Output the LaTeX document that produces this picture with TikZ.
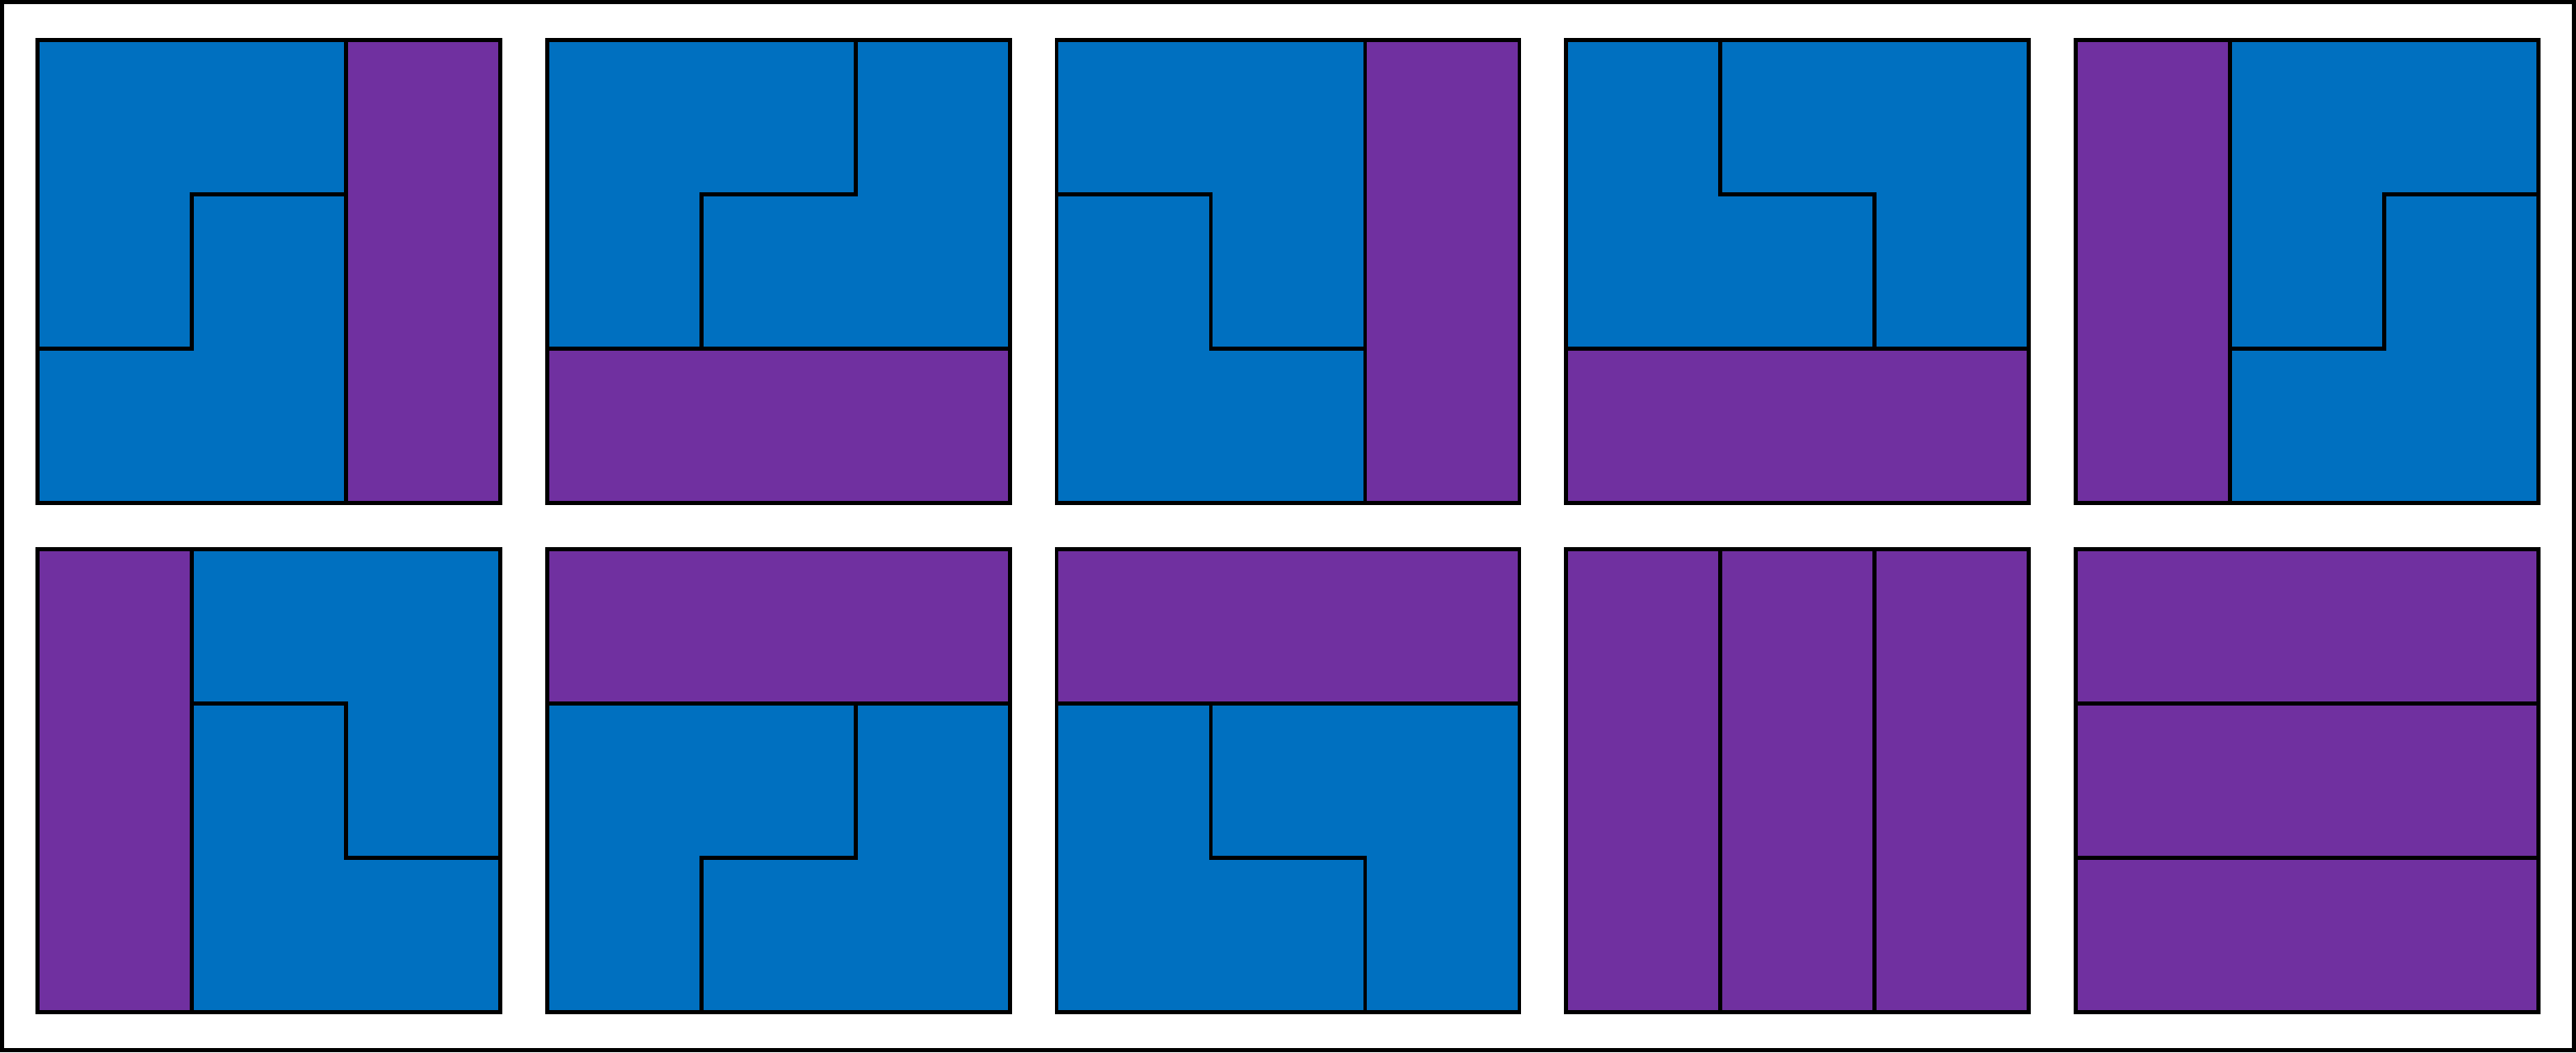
\documentclass[tikz,border=0pt]{standalone}
\definecolor{lblue}{HTML}{0070C0}
\definecolor{bpurple}{HTML}{7030A0}
\tikzset{
  tromino/.style={fill=lblue,draw=black,line width=0.75pt,line join=miter},
  barpiece/.style={fill=bpurple,draw=black,line width=0.75pt},
}
\begin{document}
\begin{tikzpicture}[x=1cm,y=-1cm]
    \useasboundingbox (0,0) rectangle (16.70,6.818);
    \draw[line width=0.75pt] (0.0134,0.0134) rectangle (16.6866,6.8046);
    % top row
    \begin{scope}[shift={(0.243,0.259)}]
      \draw[tromino] (0,0)--(2,0)--(2,1)--(1,1)--(1,2)--(0,2)--cycle;
      \draw[tromino] (1,1)--(2,1)--(2,3)--(0,3)--(0,2)--(1,2)--cycle;
      \draw[barpiece] (2,0) rectangle (3,3);
    \end{scope}
    \begin{scope}[shift={(3.5465,0.259)}]
      \draw[tromino] (0,0)--(2,0)--(2,1)--(1,1)--(1,2)--(0,2)--cycle;
      \draw[tromino] (2,0)--(3,0)--(3,2)--(1,2)--(1,1)--(2,1)--cycle;
      \draw[barpiece] (0,2) rectangle (3,3);
    \end{scope}
    \begin{scope}[shift={(6.85,0.259)}]
      \draw[tromino] (0,0)--(2,0)--(2,2)--(1,2)--(1,1)--(0,1)--cycle;
      \draw[tromino] (0,1)--(1,1)--(1,2)--(2,2)--(2,3)--(0,3)--cycle;
      \draw[barpiece] (2,0) rectangle (3,3);
    \end{scope}
    \begin{scope}[shift={(10.1535,0.259)}]
      \draw[tromino] (0,0)--(1,0)--(1,1)--(2,1)--(2,2)--(0,2)--cycle;
      \draw[tromino] (1,0)--(3,0)--(3,2)--(2,2)--(2,1)--(1,1)--cycle;
      \draw[barpiece] (0,2) rectangle (3,3);
    \end{scope}
    \begin{scope}[shift={(13.457,0.259)}]
      \draw[barpiece] (0,0) rectangle (1,3);
      \draw[tromino] (1,0)--(3,0)--(3,1)--(2,1)--(2,2)--(1,2)--cycle;
      \draw[tromino] (2,1)--(3,1)--(3,3)--(1,3)--(1,2)--(2,2)--cycle;
    \end{scope}
    % bottom row
    \begin{scope}[shift={(0.243,3.559)}]
      \draw[barpiece] (0,0) rectangle (1,3);
      \draw[tromino] (1,0)--(3,0)--(3,2)--(2,2)--(2,1)--(1,1)--cycle;
      \draw[tromino] (1,1)--(2,1)--(2,2)--(3,2)--(3,3)--(1,3)--cycle;
    \end{scope}
    \begin{scope}[shift={(3.5465,3.559)}]
      \draw[barpiece] (0,0) rectangle (3,1);
      \draw[tromino] (0,1)--(2,1)--(2,2)--(1,2)--(1,3)--(0,3)--cycle;
      \draw[tromino] (2,1)--(3,1)--(3,3)--(1,3)--(1,2)--(2,2)--cycle;
    \end{scope}
    \begin{scope}[shift={(6.85,3.559)}]
      \draw[barpiece] (0,0) rectangle (3,1);
      \draw[tromino] (0,1)--(1,1)--(1,2)--(2,2)--(2,3)--(0,3)--cycle;
      \draw[tromino] (1,1)--(3,1)--(3,3)--(2,3)--(2,2)--(1,2)--cycle;
    \end{scope}
    \begin{scope}[shift={(10.1535,3.559)}]
      \foreach \i in {0,1,2}{
        \draw[barpiece] (\i,0) rectangle (\i+1,3);
      }
    \end{scope}
    \begin{scope}[shift={(13.457,3.559)}]
      \foreach \i in {0,1,2}{
        \draw[barpiece] (0,\i) rectangle (3,\i+1);
      }
    \end{scope}
  \end{tikzpicture}
\end{document}
